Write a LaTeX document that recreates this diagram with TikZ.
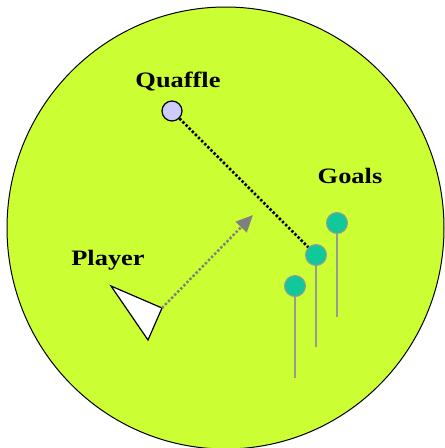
\documentclass[tikz,border=0pt]{standalone}
\usepackage{fontspec}
\setmainfont{Liberation Serif}[FakeStretch=1.2]
\usetikzlibrary{arrows.meta}
\definecolor{field}{HTML}{CCFF33}
\definecolor{quaffle}{HTML}{CCCCFF}
\definecolor{goalfill}{HTML}{11C89A}
\definecolor{polegray}{HTML}{999999}
\definecolor{arrowgray}{HTML}{808080}
\tikzset{
  label/.style={font=\fontsize{22}{26}\selectfont\bfseries, inner sep=0pt, anchor=base},
  ball/.style={circle, draw=black, line width=1.2pt, fill=quaffle, minimum size=20pt, inner sep=0pt},
  hoop/.style={circle, draw=polegray, line width=1pt, fill=goalfill, minimum size=21pt, inner sep=0pt},
  pole/.style={draw=polegray, line width=1.8pt},
  dotline/.style={line width=2.5pt, dash pattern=on 2.4pt off 2pt},
}
\begin{document}
\begin{tikzpicture}[x=1pt,y=-1pt]
\useasboundingbox (0,0) rectangle (445,448);
% field
\draw[fill=field, draw=black, line width=1pt] (225.5,228) ellipse [x radius=218.5, y radius=221];
% labels
\node[label] (lq) at (178,87) {Quaffle};
\node[label] (lg) at (350,183) {Goals};
\node[label] (lp) at (108,265) {Player};
% goal poles
\coordinate (b1) at (337,317);
\coordinate (b2) at (316,347);
\coordinate (b3) at (295,378);
\coordinate (t1) at (337,223);
\coordinate (t2) at (316,255);
\coordinate (t3) at (295,286);
\draw[pole] (t1) -- (b1);
\draw[pole] (t2) -- (b2);
\draw[pole] (t3) -- (b3);
\node[hoop] (g1) at (t1) {};
\node[hoop] (g2) at (t2) {};
\node[hoop] (g3) at (t3) {};
% quaffle
\node[ball] (q) at (172,111) {};
\draw[dotline, black] (q) -- (g2);
% player
\coordinate (p1) at (111,286);
\coordinate (p2) at (162,308);
\coordinate (p3) at (148,340);
\draw[fill=white, draw=black, line width=1.2pt, line join=miter] (p1) -- (p2) -- (p3) -- cycle;
\coordinate (aim) at (253,215);
\draw[dotline, arrowgray, -{Triangle[length=17pt, width=15pt]}] (p2) -- (aim);
\end{tikzpicture}
\end{document}
